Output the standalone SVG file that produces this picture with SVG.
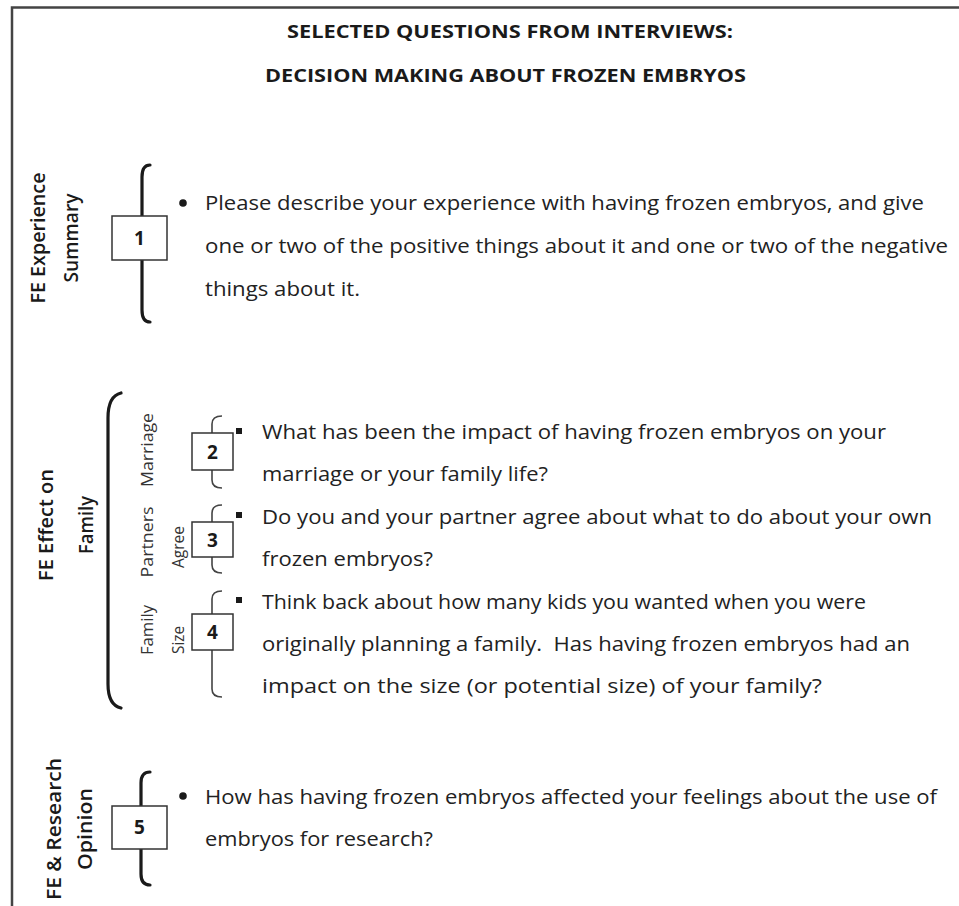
<svg xmlns="http://www.w3.org/2000/svg" width="959" height="906" viewBox="0 0 959 906">
  <style>
    .frame { fill: none; stroke: #444; stroke-width: 2.5; }
    .title { font-family: "Open Sans", "Liberation Sans", sans-serif; font-weight: 700; font-size: 18px; fill: #1a1a1a; text-anchor: middle; }
    .body { font-family: "Open Sans", "Liberation Sans", sans-serif; font-size: 20.5px; fill: #222; }
    .cat { font-family: "Open Sans", "Liberation Sans", sans-serif; font-weight: 600; font-size: 20px; fill: #1a1a1a; text-anchor: middle; }
    .sub { font-family: "Open Sans", "Liberation Sans", sans-serif; font-size: 16px; fill: #333; text-anchor: middle; }
    .box { fill: #fff; stroke: #333; stroke-width: 1.5; }
    .num { font-family: "Open Sans", "Liberation Sans", sans-serif; font-weight: 700; font-size: 19px; fill: #1a1a1a; text-anchor: middle; }
    .brace { fill: none; stroke: #1a1a1a; stroke-width: 3.2; stroke-linecap: round; }
    .brace-sm { fill: none; stroke: #444; stroke-width: 1.6; }
    .dot { fill: #1a1a1a; }
  </style>

  <rect width="959" height="906" fill="#fff"/>

  <!-- page frame: top and left rules -->
  <path class="frame" d="M12,906 L12,7.5 L959,7.5"/>

  <g id="title">
    <text class="title" x="510" y="38" textLength="446" lengthAdjust="spacingAndGlyphs">SELECTED QUESTIONS FROM INTERVIEWS:</text>
    <text class="title" x="505.5" y="82" textLength="481" lengthAdjust="spacingAndGlyphs">DECISION MAKING ABOUT FROZEN EMBRYOS</text>
  </g>

  <!-- braces grouping the questions -->
  <g id="connectors">
    <path class="brace" d="M150,165 Q142,165 142,177 L142,230 Q142,238 137,238 Q142,238 142,246 L142,310 Q142,322 150,322"/>
    <path class="brace" d="M121,393 Q108,396 108,418 L108,684 Q108,705 121,708"/>
    <path class="brace-sm" d="M222,416 Q212,416 212,424 L212,445 Q212,451 208,451 Q212,451 212,457 L212,480 Q212,488 222,488"/>
    <path class="brace-sm" d="M222,505 Q212,505 212,513 L212,533 Q212,539 208,539 Q212,539 212,545 L212,565 Q212,573 222,573"/>
    <path class="brace-sm" d="M222,591 Q212,591 212,599 L212,626 Q212,632 208,632 Q212,632 212,638 L212,689 Q212,697 222,697"/>
    <path class="brace" d="M150,772 Q141,772 141,783 L141,820 Q141,828 136,828 Q141,828 141,836 L141,874 Q141,885 150,885"/>
  </g>

  <g id="section-1">
    <text class="cat" transform="translate(45,238) rotate(-90)" textLength="131" lengthAdjust="spacingAndGlyphs">FE Experience</text>
    <text class="cat" transform="translate(78,238) rotate(-90)" textLength="89" lengthAdjust="spacingAndGlyphs">Summary</text>
  </g>
  <g id="q1">
    <rect class="box" x="112" y="216" width="55" height="44"/>
    <text class="num" x="139.5" y="245">1</text>
    <circle class="dot" cx="183" cy="203" r="3.8"/>
    <text class="body" x="205" y="210" textLength="719" lengthAdjust="spacingAndGlyphs">Please describe your experience with having frozen embryos, and give</text>
    <text class="body" x="205" y="253" textLength="743" lengthAdjust="spacingAndGlyphs">one or two of the positive things about it and one or two of the negative</text>
    <text class="body" x="205" y="296" textLength="155" lengthAdjust="spacingAndGlyphs">things about it.</text>
  </g>

  <g id="section-2">
    <text class="cat" transform="translate(53,525) rotate(-90)" textLength="112" lengthAdjust="spacingAndGlyphs">FE Effect on</text>
    <text class="cat" transform="translate(93,525) rotate(-90)" textLength="58" lengthAdjust="spacingAndGlyphs">Family</text>
  </g>
  <g id="q2">
    <text class="sub" transform="translate(153,450) rotate(-90)" textLength="74" lengthAdjust="spacingAndGlyphs">Marriage</text>
    <rect class="box" x="192" y="433" width="41" height="37"/>
    <text class="num" x="212.5" y="459">2</text>
    <rect class="dot" x="236" y="428" width="6" height="6"/>
    <text class="body" x="262" y="439" textLength="624" lengthAdjust="spacingAndGlyphs">What has been the impact of having frozen embryos on your</text>
    <text class="body" x="262" y="481" textLength="286" lengthAdjust="spacingAndGlyphs">marriage or your family life?</text>
  </g>
  <g id="q3">
    <text class="sub" transform="translate(153,542) rotate(-90)" textLength="71" lengthAdjust="spacingAndGlyphs">Partners</text>
    <text class="sub" transform="translate(184,547) rotate(-90)" textLength="42" lengthAdjust="spacingAndGlyphs">Agree</text>
    <rect class="box" x="192" y="522" width="41" height="35"/>
    <text class="num" x="212.5" y="547">3</text>
    <rect class="dot" x="236" y="512" width="6" height="6"/>
    <text class="body" x="262" y="524" textLength="670" lengthAdjust="spacingAndGlyphs">Do you and your partner agree about what to do about your own</text>
    <text class="body" x="262" y="566" textLength="171" lengthAdjust="spacingAndGlyphs">frozen embryos?</text>
  </g>
  <g id="q4">
    <text class="sub" transform="translate(153,630) rotate(-90)" textLength="50" lengthAdjust="spacingAndGlyphs">Family</text>
    <text class="sub" transform="translate(184,640) rotate(-90)" textLength="28" lengthAdjust="spacingAndGlyphs">Size</text>
    <rect class="box" x="192" y="614" width="41" height="36"/>
    <text class="num" x="212.5" y="639">4</text>
    <rect class="dot" x="236" y="597" width="6" height="6"/>
    <text class="body" x="262" y="609" textLength="604" lengthAdjust="spacingAndGlyphs">Think back about how many kids you wanted when you were</text>
    <text class="body" x="262" y="651" textLength="648" lengthAdjust="spacingAndGlyphs" xml:space="preserve">originally planning a family.  Has having frozen embryos had an</text>
    <text class="body" x="262" y="693" textLength="560" lengthAdjust="spacingAndGlyphs">impact on the size (or potential size) of your family?</text>
  </g>

  <g id="section-3">
    <text class="cat" transform="translate(61,829) rotate(-90)" textLength="142" lengthAdjust="spacingAndGlyphs">FE &amp; Research</text>
    <text class="cat" transform="translate(92,829) rotate(-90)" textLength="82" lengthAdjust="spacingAndGlyphs">Opinion</text>
  </g>
  <g id="q5">
    <rect class="box" x="112" y="806" width="55" height="43"/>
    <text class="num" x="139.5" y="834">5</text>
    <circle class="dot" cx="183" cy="796" r="3.8"/>
    <text class="body" x="205" y="804" textLength="732" lengthAdjust="spacingAndGlyphs">How has having frozen embryos affected your feelings about the use of</text>
    <text class="body" x="205" y="846" textLength="228" lengthAdjust="spacingAndGlyphs">embryos for research?</text>
  </g>
</svg>
